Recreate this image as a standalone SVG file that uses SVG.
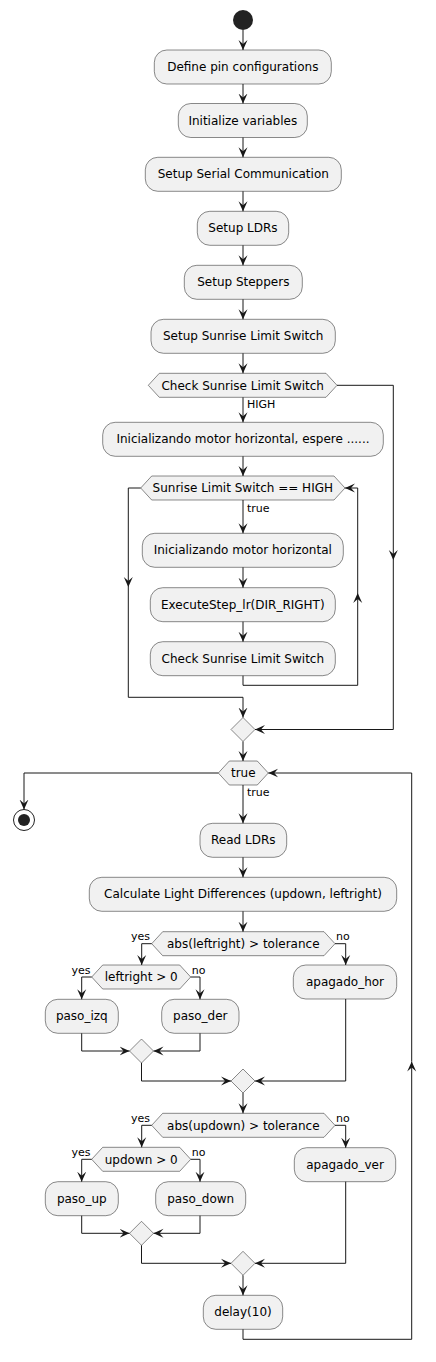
<svg xmlns="http://www.w3.org/2000/svg" width="436" height="1362" viewBox="0 0 436 1362">
<style>
.b{fill:#F1F1F1;stroke:#181818;stroke-width:0.5}
.t{font-family:"DejaVu Sans",sans-serif;font-size:12px;fill:#000;text-anchor:middle}
.l{font-family:"DejaVu Sans",sans-serif;font-size:11px;fill:#000}
.c path{fill:none;stroke:#181818;stroke-width:1}
</style>
<defs>
<marker id="a" markerUnits="userSpaceOnUse" viewBox="0 0 10 10" refX="10" refY="5" markerWidth="10" markerHeight="10" orient="auto">
<path d="M0,0.5 L10,5 L0,9.5 L4,5 Z" fill="#181818"/>
</marker>
</defs>
<rect width="436" height="1362" fill="#FFFFFF"/>
<g id="start"><circle cx="243" cy="20" r="10" fill="#222222"/></g>
<g id="n1"><rect class="b" x="154.3" y="50" width="177" height="34" rx="12.5"/><text class="t" x="242.8" y="71">Define pin configurations</text></g>
<g id="n2"><rect class="b" x="178.3" y="103.5" width="129" height="34" rx="12.5"/><text class="t" x="242.8" y="124.5">Initialize variables</text></g>
<g id="n3"><rect class="b" x="145.3" y="157.3" width="196" height="34" rx="12.5"/><text class="t" x="243.3" y="178.3">Setup Serial Communication</text></g>
<g id="n4"><rect class="b" x="197.3" y="211.3" width="91.4" height="34" rx="12.5"/><text class="t" x="243" y="232.3">Setup LDRs</text></g>
<g id="n5"><rect class="b" x="184.3" y="265.3" width="118" height="34" rx="12.5"/><text class="t" x="243.3" y="286.3">Setup Steppers</text></g>
<g id="n6"><rect class="b" x="151" y="319.3" width="184.3" height="34" rx="12.5"/><text class="t" x="243.2" y="340.3">Setup Sunrise Limit Switch</text></g>
<g id="d1"><polygon class="b" points="159.3,373.3 326,373.3 337,385.3 326,397.3 159.3,397.3 148.3,385.3"/><text class="t" x="242.7" y="389.6">Check Sunrise Limit Switch</text></g>
<g id="n7"><rect class="b" x="102.7" y="422.3" width="280.6" height="34" rx="12.5"/><text class="t" x="243" y="443.3">Inicializando motor horizontal, espere ......</text></g>
<g id="w1"><polygon class="b" points="151.7,476 334,476 345,488 334,500 151.7,500 140.7,488"/><text class="t" x="242.8" y="492.3">Sunrise Limit Switch == HIGH</text></g>
<g id="n8"><rect class="b" x="142.3" y="533.3" width="201" height="34" rx="12.5"/><text class="t" x="242.8" y="554.3">Inicializando motor horizontal</text></g>
<g id="n9"><rect class="b" x="150.3" y="587.7" width="185" height="34" rx="12.5"/><text class="t" x="242.8" y="608.7">ExecuteStep_lr(DIR_RIGHT)</text></g>
<g id="n10"><rect class="b" x="150.3" y="641.7" width="185" height="34" rx="12.5"/><text class="t" x="242.8" y="662.7">Check Sunrise Limit Switch</text></g>
<g id="m1"><polygon class="b" points="243,717.5 255,729.5 243,741.5 231,729.5"/></g>
<g id="w2"><polygon class="b" points="229.3,761 257.3,761 268.3,773 257.3,785 229.3,785 218.3,773"/><text class="t" x="243.3" y="777.3">true</text></g>
<g id="end"><circle cx="24" cy="820" r="10.5" fill="none" stroke="#222222" stroke-width="1"/><circle cx="24" cy="820" r="6" fill="#222222"/></g>
<g id="n11"><rect class="b" x="200" y="823.3" width="86.7" height="34" rx="12.5"/><text class="t" x="243.3" y="844.3">Read LDRs</text></g>
<g id="n12"><rect class="b" x="89.3" y="877.3" width="307.4" height="34" rx="12.5"/><text class="t" x="243" y="898.3">Calculate Light Differences (updown, leftright)</text></g>
<g id="d2"><polygon class="b" points="162.7,931.7 324,931.7 335,943.7 324,955.7 162.7,955.7 151.7,943.7"/><text class="t" x="243.3" y="948">abs(leftright) &gt; tolerance</text></g>
<g id="d3"><polygon class="b" points="102.7,965 179.7,965 190.7,977 179.7,989 102.7,989 91.7,977"/><text class="t" x="141.2" y="981.3">leftright &gt; 0</text></g>
<g id="n13"><rect class="b" x="293.3" y="965" width="103.4" height="34" rx="12.5"/><text class="t" x="345" y="986">apagado_hor</text></g>
<g id="n14"><rect class="b" x="45.3" y="999.3" width="73" height="34" rx="12.5"/><text class="t" x="81.8" y="1020.3">paso_izq</text></g>
<g id="n15"><rect class="b" x="161.7" y="999.3" width="77.3" height="34" rx="12.5"/><text class="t" x="200.3" y="1020.3">paso_der</text></g>
<g id="m2"><polygon class="b" points="141.5,1039 153.5,1051 141.5,1063 129.5,1051"/></g>
<g id="m3"><polygon class="b" points="243,1069 255,1081 243,1093 231,1081"/></g>
<g id="d4"><polygon class="b" points="162.7,1113.3 324,1113.3 335,1125.3 324,1137.3 162.7,1137.3 151.7,1125.3"/><text class="t" x="243.3" y="1129.6">abs(updown) &gt; tolerance</text></g>
<g id="d5"><polygon class="b" points="102.7,1147.3 179.7,1147.3 190.7,1159.3 179.7,1171.3 102.7,1171.3 91.7,1159.3"/><text class="t" x="141.2" y="1163.6">updown &gt; 0</text></g>
<g id="n16"><rect class="b" x="294.3" y="1147.7" width="101.4" height="34" rx="12.5"/><text class="t" x="345" y="1168.7">apagado_ver</text></g>
<g id="n17"><rect class="b" x="45.3" y="1181.7" width="73" height="34" rx="12.5"/><text class="t" x="81.8" y="1202.7">paso_up</text></g>
<g id="n18"><rect class="b" x="155.7" y="1181.7" width="90" height="34" rx="12.5"/><text class="t" x="200.7" y="1202.7">paso_down</text></g>
<g id="m4"><polygon class="b" points="141.5,1221.3 153.5,1233.3 141.5,1245.3 129.5,1233.3"/></g>
<g id="m5"><polygon class="b" points="243,1251.3 255,1263.3 243,1275.3 231,1263.3"/></g>
<g id="n19"><rect class="b" x="203.3" y="1295.3" width="79.4" height="34" rx="12.5"/><text class="t" x="243" y="1316.3">delay(10)</text></g>
<g id="connectors" class="c">
<path d="M243,30 V50" marker-end="url(#a)"/>
<path d="M243,84 V103.5" marker-end="url(#a)"/>
<path d="M243,137.5 V157.3" marker-end="url(#a)"/>
<path d="M243,191.3 V211.3" marker-end="url(#a)"/>
<path d="M243,245.3 V265.3" marker-end="url(#a)"/>
<path d="M243,299.3 V319.3" marker-end="url(#a)"/>
<path d="M243,353.3 V373.3" marker-end="url(#a)"/>
<path d="M243,397.3 V422.3" marker-end="url(#a)"/>
<path d="M243,456.3 V476" marker-end="url(#a)"/>
<path d="M243,500 V533.3" marker-end="url(#a)"/>
<path d="M243,567.3 V587.7" marker-end="url(#a)"/>
<path d="M243,621.7 V641.7" marker-end="url(#a)"/>
<path d="M243,675.7 V685.3 H357.7 V593" marker-end="url(#a)"/>
<path d="M357.7,593 V488 H345" marker-end="url(#a)"/>
<path d="M140.7,488 H128.3 V587" marker-end="url(#a)"/>
<path d="M128.3,587 V697.3 H243 V717.5" marker-end="url(#a)"/>
<path d="M337,385.3 H393.3 V560" marker-end="url(#a)"/>
<path d="M393.3,560 V729.5 H255" marker-end="url(#a)"/>
<path d="M243,741.5 V761" marker-end="url(#a)"/>
<path d="M218.3,773 H24 V809.5" marker-end="url(#a)"/>
<path d="M243,785 V823.3" marker-end="url(#a)"/>
<path d="M243,857.3 V877.3" marker-end="url(#a)"/>
<path d="M243,911.3 V931.7" marker-end="url(#a)"/>
<path d="M151.7,943.7 H141.7 V965" marker-end="url(#a)"/>
<path d="M335,943.7 H345.7 V965" marker-end="url(#a)"/>
<path d="M91.7,977 H81.7 V999.3" marker-end="url(#a)"/>
<path d="M190.7,977 H200 V999.3" marker-end="url(#a)"/>
<path d="M81.7,1033.3 V1051 H129.5" marker-end="url(#a)"/>
<path d="M200,1033.3 V1051 H153.5" marker-end="url(#a)"/>
<path d="M141.5,1063 V1081 H231" marker-end="url(#a)"/>
<path d="M345.7,999 V1081 H255" marker-end="url(#a)"/>
<path d="M243,1093 V1113.3" marker-end="url(#a)"/>
<path d="M151.7,1125.3 H141.7 V1147.3" marker-end="url(#a)"/>
<path d="M335,1125.3 H345.7 V1147.7" marker-end="url(#a)"/>
<path d="M91.7,1159.3 H81.7 V1181.7" marker-end="url(#a)"/>
<path d="M190.7,1159.3 H200 V1181.7" marker-end="url(#a)"/>
<path d="M81.7,1215.7 V1233.3 H129.5" marker-end="url(#a)"/>
<path d="M200,1215.7 V1233.3 H153.5" marker-end="url(#a)"/>
<path d="M141.5,1245.3 V1263.3 H231" marker-end="url(#a)"/>
<path d="M345.7,1181.7 V1263.3 H255" marker-end="url(#a)"/>
<path d="M243,1275.3 V1295.3" marker-end="url(#a)"/>
<path d="M243,1329.3 V1339.3 H411.7 V1061.5" marker-end="url(#a)"/>
<path d="M411.7,1061.5 V773 H268.3" marker-end="url(#a)"/>
</g>
<g id="labels">
<text class="l" x="247" y="408">HIGH</text>
<text class="l" x="247" y="511.5">true</text>
<text class="l" x="247" y="795.5">true</text>
<text class="l" x="150" y="939.5" text-anchor="end">yes</text>
<text class="l" x="336" y="939.5">no</text>
<text class="l" x="90.5" y="974" text-anchor="end">yes</text>
<text class="l" x="191.7" y="974">no</text>
<text class="l" x="150" y="1121.5" text-anchor="end">yes</text>
<text class="l" x="336" y="1121.5">no</text>
<text class="l" x="90.5" y="1155.7" text-anchor="end">yes</text>
<text class="l" x="191.7" y="1155.7">no</text>
</g>
</svg>
